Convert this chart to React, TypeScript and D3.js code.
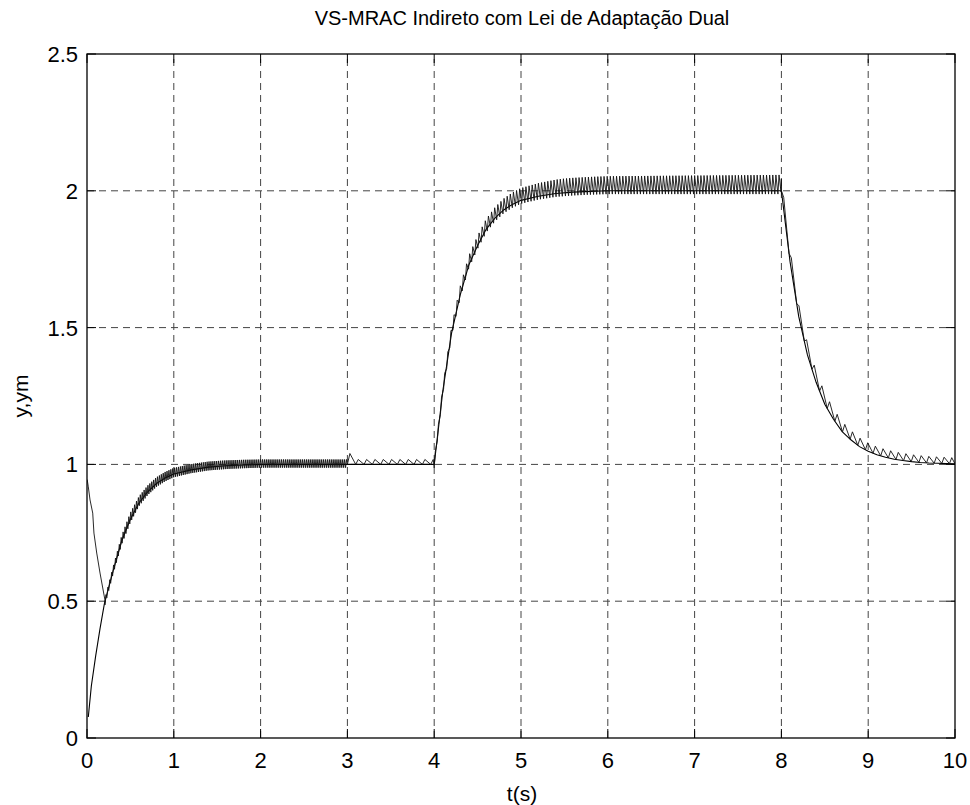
import React from "react";
import * as d3 from "d3";

// ---- data ----
const title = "VS-MRAC Indireto com Lei de Adaptação Dual";
const xLabel = "t(s)";
const yLabel = "y,ym";
const xTicks = [0, 1, 2, 3, 4, 5, 6, 7, 8, 9, 10];
const yTicks = [0, 0.5, 1, 1.5, 2, 2.5];

// reference model output ym (time, value)
const ymT = [0.015, 0.05, 0.1, 0.15, 0.2, 0.3, 0.4, 0.5, 0.6, 0.7, 0.8, 0.9, 1.0, 1.2, 1.4, 1.6, 1.8, 2.0, 3.0, 4.0,
  4.1, 4.2, 4.3, 4.4, 4.5, 4.6, 4.7, 4.8, 4.9, 5.0, 5.2, 5.4, 5.6, 5.8, 6.0, 8.0,
  8.1, 8.2, 8.3, 8.4, 8.5, 8.6, 8.7, 8.8, 8.9, 9.0, 9.1, 9.2, 9.3, 9.4, 9.5, 9.6, 9.7, 9.8, 9.9, 10.0];
const ymV = [0.077, 0.19, 0.30, 0.40, 0.49, 0.61, 0.72, 0.80, 0.86, 0.90, 0.93, 0.95, 0.965, 0.98, 0.99, 0.995, 0.998, 1.0, 1.0, 1.0,
  1.27, 1.48, 1.62, 1.73, 1.80, 1.86, 1.90, 1.93, 1.95, 1.965, 1.98, 1.99, 1.995, 1.998, 2.0, 2.0,
  1.74, 1.54, 1.40, 1.30, 1.22, 1.165, 1.12, 1.09, 1.065, 1.048, 1.035, 1.026, 1.019, 1.014, 1.01, 1.007, 1.005, 1.004, 1.003, 1.002];

// plant output y: initial transient (time, value)
const yInitT = [0.0, 0.003, 0.015, 0.035, 0.066, 0.08, 0.112, 0.15, 0.207];
const yInitV = [0.945, 0.943, 0.918, 0.87, 0.822, 0.749, 0.676, 0.603, 0.504];

// chattering of y around ym: envelope above ym (time, deviation)
const chatHiT = [0.21, 0.5, 1.0, 2.0, 2.99, 3.0, 3.02, 3.06, 3.99, 4.0, 4.3, 5.0, 5.5, 7.99, 8.0, 8.5, 9.0, 10.0];
const chatHiV = [0.012, 0.024, 0.022, 0.018, 0.018, 0.046, 0.046, 0.018, 0.018, 0.012, 0.032, 0.045, 0.052, 0.058, 0.045, 0.04, 0.03, 0.022];
// envelope below ym
const chatLoT = [0.21, 2.99, 3.0, 3.99, 4.0, 7.99, 8.0, 10.0];
const chatLoV = [0.012, 0.012, 0.0, 0.0, 0.012, 0.012, 0.0, 0.0];
// chattering segments: start, end, tooth period (s), rise fraction
const segStart = [0.207, 3.0, 4.0, 8.0];
const segEnd = [3.0, 4.0, 8.0, 10.0];
const segPeriod = [0.022, 0.096, 0.036, 0.088];
const segRise = [0.5, 0.3, 0.35, 0.3];

// ---- layout ----
const W = 970, H = 805;
const L = 87, R = 955, T = 54, B = 738;

export default function App() {
  const x = d3.scaleLinear().domain([0, 10]).range([L, R]);
  const y = d3.scaleLinear().domain([0, 2.5]).range([B, T]);
  const ymAt = d3.scaleLinear().domain(ymT).range(ymV).clamp(true);
  const hiAt = d3.scaleLinear().domain(chatHiT).range(chatHiV).clamp(true);
  const loAt = d3.scaleLinear().domain(chatLoT).range(chatLoV).clamp(true);

  const line = d3.line<[number, number]>().x(d => x(d[0])).y(d => y(d[1]));

  const ymPts: [number, number][] = ymT.map((t, i) => [t, ymV[i]]);

  const yPts: [number, number][] = yInitT.map((t, i) => [t, yInitV[i]]);
  segStart.forEach((s, k) => {
    const e = segEnd[k], p = segPeriod[k], r = segRise[k];
    for (let t = s; t < e - 1e-9; t += p) {
      const tp = Math.min(t + r * p, e);
      yPts.push([t, ymAt(t) - loAt(t)]);
      yPts.push([tp, ymAt(tp) + hiAt(tp)]);
    }
  });
  yPts.push([10, ymAt(10)]);

  const font = "'Liberation Sans', Arial, Helvetica, sans-serif";
  const tickLen = 9;

  return (
    <svg width={W} height={H} style={{ position: "absolute", left: 0, top: 0, background: "#fff" }}
      fontFamily={font}>
      <rect x={0} y={0} width={W} height={H} fill="#fff" />
      {/* grid */}
      <g stroke="#444" strokeWidth={1} strokeDasharray="7,5" fill="none">
        {xTicks.slice(1, -1).map(t => (
          <line key={"gx" + t} x1={x(t)} x2={x(t)} y1={B} y2={T} />
        ))}
        {yTicks.slice(1, -1).map(t => (
          <line key={"gy" + t} x1={L} x2={R} y1={y(t)} y2={y(t)} />
        ))}
      </g>
      {/* data */}
      <clipPath id="plotclip"><rect x={L} y={T} width={R - L} height={B - T} /></clipPath>
      <g clipPath="url(#plotclip)" fill="none">
        <path d={line(ymPts) || ""} stroke="#000" strokeWidth={1.1} />
        <path d={line(yPts) || ""} stroke="#111" strokeWidth={0.9} />
      </g>
      {/* box */}
      <rect x={L} y={T} width={R - L} height={B - T} fill="none" stroke="#000" strokeWidth={1.3} />
      {/* ticks */}
      <g stroke="#000" strokeWidth={1}>
        {xTicks.map(t => (
          <g key={"tx" + t}>
            <line x1={x(t)} x2={x(t)} y1={B} y2={B - tickLen} />
            <line x1={x(t)} x2={x(t)} y1={T} y2={T + tickLen} />
          </g>
        ))}
        {yTicks.map(t => (
          <g key={"ty" + t}>
            <line x1={L} x2={L + tickLen} y1={y(t)} y2={y(t)} />
            <line x1={R} x2={R - tickLen} y1={y(t)} y2={y(t)} />
          </g>
        ))}
      </g>
      {/* tick labels */}
      <g fontSize={22} fill="#000">
        {xTicks.map(t => (
          <text key={"lx" + t} x={x(t)} y={768} textAnchor="middle">{d3.format("")(t)}</text>
        ))}
        {yTicks.map(t => (
          <text key={"ly" + t} x={L - 9} y={y(t) + 8} textAnchor="end">{d3.format("")(t)}</text>
        ))}
      </g>
      <text x={(L + R) / 2 + 1} y={801} textAnchor="middle" fontSize={21}>{xLabel}</text>
      <text transform={`translate(28, ${(T + B) / 2}) rotate(-90)`} textAnchor="middle" fontSize={21}>{yLabel}</text>
      <text x={(L + R) / 2 + 1} y={25} textAnchor="middle" fontSize={20}>{title}</text>
    </svg>
  );
}
